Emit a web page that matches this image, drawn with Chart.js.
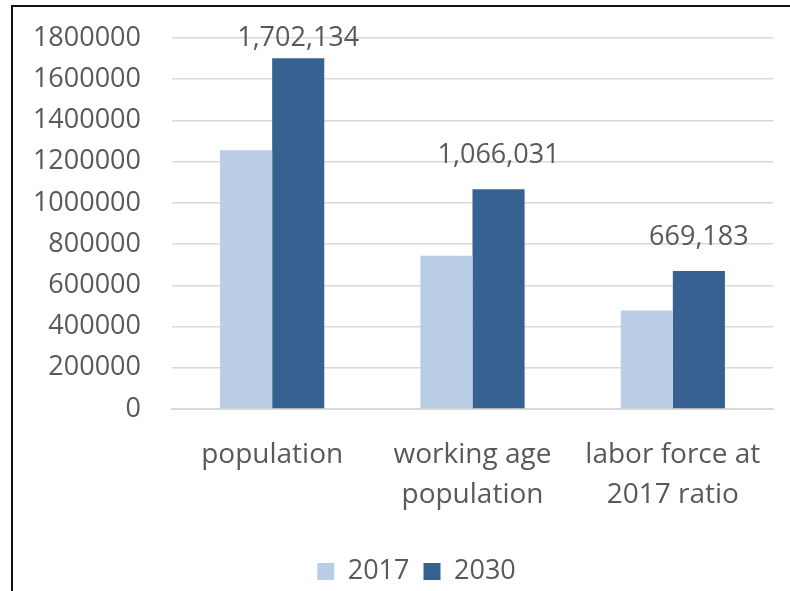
<!DOCTYPE html>
<html>
<head>
<meta charset="utf-8">
<script src="https://cdn.jsdelivr.net/npm/chart.js@4/dist/chart.umd.min.js"></script>
<style>
  html, body { margin: 0; padding: 0; background: #fff; }
  #wrap { position: relative; width: 790px; height: 591px; overflow: hidden; }
  #frame { position: absolute; left: 11px; top: 5px; width: 900px; height: 700px;
           border-left: 2px solid #111; border-top: 2px solid #111; box-sizing: border-box; }
  canvas { position: absolute; left: 0; top: 0; }
</style>
</head>
<body>
<div id="wrap">
  <div id="frame"></div>
  <canvas id="chart" width="790" height="591"></canvas>
</div>
<script>
// values
const categories = ['population', ['working age', 'population'], ['labor force at', '2017 ratio']];
const series2017 = [1255000, 744000, 478000];
const series2030 = [1702134, 1066031, 669183];
const yMax = 1800000;
const yStep = 200000;

const textColor = '#595959';
const fontFamily = '"Open Sans", "Noto Sans", sans-serif';

// labels above the 2030 bars
const valueLabels = {
  id: 'valueLabels',
  afterDatasetsDraw(chart) {
    const ctx = chart.ctx;
    const meta = chart.getDatasetMeta(1);
    ctx.save();
    ctx.font = '27px ' + fontFamily;
    ctx.fillStyle = textColor;
    ctx.textAlign = 'center';
    ctx.textBaseline = 'middle';
    meta.data.forEach((bar, i) => {
      const y = Math.max(chart.chartArea.top, bar.y - 34);
      ctx.fillText(series2030[i].toLocaleString('en-US'), bar.x, y);
    });
    ctx.restore();
  }
};

// the legend sits a little right of centre and lower in the original
const legendShift = {
  id: 'legendShift',
  afterLayout(chart) {
    chart.legend.left += 60;
    chart.legend.top += 4;
    chart.legend.bottom += 4;
  }
};

new Chart(document.getElementById('chart'), {
  type: 'bar',
  data: {
    labels: categories,
    datasets: [
      { label: '2017', data: series2017, backgroundColor: '#B9CDE5',
        barPercentage: 1.0, categoryPercentage: 0.52 },
      { label: '2030', data: series2030, backgroundColor: '#366190',
        barPercentage: 1.0, categoryPercentage: 0.52 }
    ]
  },
  options: {
    responsive: false,
    animation: false,
    layout: { padding: { left: 0, right: 17, top: 38, bottom: 0 } },
    scales: {
      x: {
        afterFit(axis) { axis.height = 131; },
        grid: { display: false, drawTicks: false },
        border: { color: '#D9D9D9', width: 2 },
        ticks: {
          color: textColor,
          font: { family: fontFamily, size: 28, lineHeight: 1.43 },
          padding: 26,
          maxRotation: 0
        }
      },
      y: {
        min: 0,
        max: yMax,
        afterFit(axis) {
          axis.width = 172;
          axis.paddingTop = 0;
          axis.paddingBottom = 0;
        },
        grid: { color: '#D9D9D9', lineWidth: 1.5, drawTicks: false },
        border: { display: false },
        ticks: {
          stepSize: yStep,
          color: textColor,
          font: { family: fontFamily, size: 27 },
          padding: 31,
          callback: v => String(v)
        }
      }
    },
    plugins: {
      legend: {
        position: 'bottom',
        labels: {
          color: textColor,
          font: { family: fontFamily, size: 27 },
          boxWidth: 17,
          boxHeight: 17,
          padding: 14
        }
      },
      tooltip: { enabled: false }
    }
  },
  plugins: [valueLabels, legendShift]
});
</script>
</body>
</html>
